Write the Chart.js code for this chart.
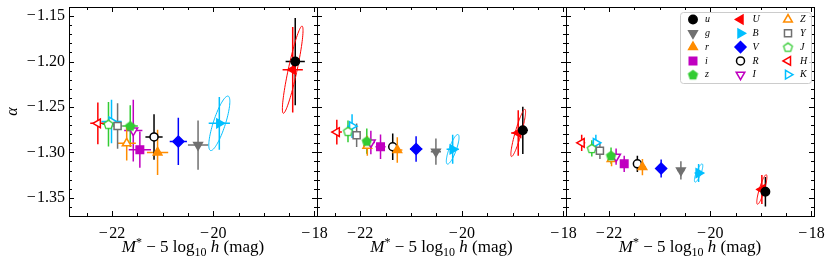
<!DOCTYPE html>
<html>
<head>
<meta charset="utf-8">
<script src="https://cdn.jsdelivr.net/npm/chart.js@4.4.0/dist/chart.umd.min.js"></script>
<style>
body{margin:0;background:#fff;}
#wrap{position:relative;width:831px;height:259px;overflow:hidden;}
#wrap canvas{position:absolute;left:0;top:0;}
.xlab{position:absolute;top:238px;line-height:18px;font-family:"Liberation Serif",serif;font-size:17px;white-space:nowrap;transform:translateX(-50%);color:#000;}
.xlab i{font-style:italic;}
.xlab .sp{font-size:12px;position:relative;top:-6px;}
.xlab .sb{font-size:12px;position:relative;top:4px;}
</style>
</head>
<body>
<div id="wrap">
<canvas id="p1" width="831" height="259"></canvas>
<canvas id="p2" width="831" height="259"></canvas>
<canvas id="p3" width="831" height="259"></canvas>
</div>
<script>
// band order used by every array below
const bands = ['u','g','r','i','z','U','B','V','R','I','Z','Y','J','H','K'];

// panel 1
const magP1      = [-18.38,-20.30,-21.10,-21.45,-21.64,-18.43,-19.88,-20.69,-21.17,-21.58,-21.71,-21.89,-22.07,-22.28,-22.01];
const alphaP1    = [-1.200,-1.292,-1.300,-1.297,-1.271,-1.209,-1.268,-1.288,-1.283,-1.276,-1.290,-1.271,-1.269,-1.268,-1.266];
const magErrP1   = [0.19,0.20,0.21,0.22,0.15,0.20,0.21,0.17,0.17,0.18,0.18,0.10,0.12,0.15,0.20];
const alphaErrP1 = [0.048,0.027,0.025,0.020,0.023,0.047,0.029,0.026,0.025,0.034,0.019,0.025,0.0245,0.023,0.024];

// panel 2
const magP2      = [-18.80,-20.51,-21.27,-21.60,-21.87,-18.89,-20.18,-20.90,-21.36,-21.79,-21.86,-22.07,-22.24,-22.46,-22.16];
const alphaP2    = [-1.2757,-1.2992,-1.2974,-1.2938,-1.2876,-1.2786,-1.2966,-1.2963,-1.2938,-1.2891,-1.2927,-1.2811,-1.2768,-1.2776,-1.2711];
const magErrP2   = [0.10,0.10,0.10,0.10,0.07,0.14,0.12,0.12,0.08,0.08,0.08,0.07,0.07,0.10,0.10];
const alphaErrP2 = [0.026,0.0145,0.014,0.0136,0.014,0.025,0.016,0.014,0.0145,0.013,0.011,0.013,0.012,0.0136,0.013];

// panel 3
const magP3      = [-18.91,-20.58,-21.34,-21.70,-21.96,-18.98,-20.23,-20.97,-21.44,-21.86,-21.95,-22.18,-22.34,-22.54,-22.26];
const alphaP3    = [-1.3433,-1.3198,-1.3162,-1.3126,-1.3036,-1.3408,-1.3227,-1.3177,-1.3126,-1.3047,-1.3072,-1.2982,-1.2956,-1.2895,-1.2895];
const magErrP3   = [0.07,0.07,0.07,0.07,0.05,0.10,0.08,0.08,0.06,0.06,0.06,0.05,0.05,0.07,0.07];
const alphaErrP3 = [0.0163,0.010,0.009,0.009,0.009,0.016,0.010,0.010,0.009,0.009,0.008,0.009,0.009,0.009,0.009];

// covariance ellipses (sigma_M, sigma_alpha, correlation)
const ellipseBands = ['U','B'];
const ellSxP1 = [0.204,0.208], ellSyP1 = [0.048,0.030], ellRhoP1 = [0.9,0.8];
const ellSxP2 = [0.145,0.125], ellSyP2 = [0.026,0.0163], ellRhoP2 = [0.9,0.8];
const ellSxP3 = [0.100,0.083], ellSyP3 = [0.0163,0.010], ellRhoP3 = [0.85,0.8];

// axes
const xMin = -22.85, xMax = -17.95;
const yMin = -1.37, yMax = -1.14;
const xTicks = [-22,-20,-18];
const yTicks = [-1.35,-1.30,-1.25,-1.20,-1.15];

// legend layout (columns of band names)
const legendCols = [['u','g','r','i','z'],['U','B','V','R','I'],['Z','Y','J','H','K']];

const FONT = '"Liberation Serif", "Times New Roman", serif';
const GREY = '#707070', ORANGE = '#ff8c00', MAG = '#c000c0', GREEN = '#33cc33', CYAN = '#00bfff';

function pentagon(color, filled){
  const c = document.createElement('canvas');
  c.width = 13; c.height = 13;
  const g = c.getContext('2d');
  g.beginPath();
  for(let k=0;k<5;k++){
    const a = -Math.PI/2 + k*2*Math.PI/5;
    const px = 6.5 + 4.6*Math.cos(a), py = 7 + 4.6*Math.sin(a);
    k ? g.lineTo(px,py) : g.moveTo(px,py);
  }
  g.closePath();
  g.fillStyle = filled ? color : '#fff';
  g.fill();
  g.lineWidth = 1.3; g.strokeStyle = color; g.stroke();
  return c;
}

const styles = {
  u:{shape:'circle',  rot:0,   color:'#000', fill:true,  r:4.2},
  g:{shape:'triangle',rot:180, color:GREY,   fill:true,  r:5},
  r:{shape:'triangle',rot:0,   color:ORANGE, fill:true,  r:5},
  i:{shape:'rect',    rot:0,   color:MAG,    fill:true,  r:5.3},
  z:{shape:pentagon(GREEN,true), rot:0, color:GREEN, fill:true, r:5},
  U:{shape:'triangle',rot:-90, color:'#ff0000', fill:true, r:5},
  B:{shape:'triangle',rot:90,  color:CYAN,   fill:true,  r:5},
  V:{shape:'rectRot', rot:0,   color:'#0000ff', fill:true, r:5.5},
  R:{shape:'circle',  rot:0,   color:'#000', fill:false, r:4},
  I:{shape:'triangle',rot:180, color:MAG,    fill:false, r:5},
  Z:{shape:'triangle',rot:0,   color:ORANGE, fill:false, r:5},
  Y:{shape:'rect',    rot:0,   color:GREY,   fill:false, r:5},
  J:{shape:pentagon(GREEN,false), rot:0, color:GREEN, fill:false, r:5},
  H:{shape:'triangle',rot:-90, color:'#ff0000', fill:false, r:5},
  K:{shape:'triangle',rot:90,  color:CYAN,   fill:false, r:5}
};

// error bars, ellipses, frame, inward ticks
const decor = {
  id:'decor',
  beforeDatasetsDraw(chart){
    const {ctx, chartArea:a, scales:{x, y}} = chart;
    ctx.save();
    ctx.beginPath(); ctx.rect(a.left, a.top, a.width, a.height); ctx.clip();
    chart.data.datasets.forEach(ds => {
      const p = ds.data[0];
      ctx.strokeStyle = ds.borderColor;
      if(ds.ell){
        const e = ds.ell, s = Math.sqrt(1 - e.rho*e.rho);
        ctx.lineWidth = 1;
        ctx.beginPath();
        for(let k=0;k<=90;k++){
          const t = k/90*2*Math.PI;
          const mx = p.x + e.sx*Math.cos(t);
          const my = p.y + e.sy*(e.rho*Math.cos(t) + s*Math.sin(t));
          const X = x.getPixelForValue(mx), Y = y.getPixelForValue(my);
          k ? ctx.lineTo(X,Y) : ctx.moveTo(X,Y);
        }
        ctx.stroke();
      }
      ctx.lineWidth = 1.5;
      ctx.beginPath();
      ctx.moveTo(x.getPixelForValue(p.x - p.ex), y.getPixelForValue(p.y));
      ctx.lineTo(x.getPixelForValue(p.x + p.ex), y.getPixelForValue(p.y));
      ctx.moveTo(x.getPixelForValue(p.x), y.getPixelForValue(p.y - p.ey));
      ctx.lineTo(x.getPixelForValue(p.x), y.getPixelForValue(p.y + p.ey));
      ctx.stroke();
    });
    ctx.restore();
  },
  afterDraw(chart){
    const {ctx, chartArea:a, scales:{x, y}} = chart;
    ctx.save();
    ctx.strokeStyle = '#000'; ctx.lineWidth = 1;
    ctx.beginPath();
    for(let v=-23; v<=-17.5; v+=0.5){
      const X = Math.round(x.getPixelForValue(v)) + 0.5;
      if(X < a.left || X > a.right) continue;
      const L = (Math.abs(v % 2) < 1e-6) ? 5 : 3;
      ctx.moveTo(X, a.bottom); ctx.lineTo(X, a.bottom - L);
      ctx.moveTo(X, a.top); ctx.lineTo(X, a.top + L);
    }
    for(let k=-137; k<=-114; k++){
      const v = k/100;
      const Y = Math.round(y.getPixelForValue(v)) + 0.5;
      if(Y < a.top || Y > a.bottom) continue;
      const L = (k % 5 === 0) ? 5 : 3;
      ctx.moveTo(a.left, Y); ctx.lineTo(a.left + L, Y);
      ctx.moveTo(a.right, Y); ctx.lineTo(a.right - L, Y);
    }
    ctx.stroke();
    ctx.strokeRect(a.left + 0.5, a.top + 0.5, a.width, a.height);
    ctx.restore();
  }
};

function drawMarker(ctx, st, x, y){
  if(Chart.helpers && Chart.helpers.drawPoint){
    Chart.helpers.drawPoint(ctx, {pointStyle:st.shape, rotation:st.rot, radius:st.r, borderWidth:1.5}, x, y);
  } else {
    ctx.beginPath(); ctx.arc(x, y, st.r, 0, 2*Math.PI); ctx.fill(); ctx.stroke();
  }
}

const legendBox = {
  id:'legendBox',
  afterDraw(chart){
    const {ctx, chartArea:a} = chart;
    const bx = a.right - 134, by = a.top + 5, bw = 131, bh = 71;
    ctx.save();
    ctx.beginPath();
    ctx.roundRect(bx + 0.5, by + 0.5, bw, bh, 3);
    ctx.fillStyle = 'rgba(255,255,255,0.8)'; ctx.fill();
    ctx.strokeStyle = '#cccccc'; ctx.lineWidth = 1; ctx.stroke();
    ctx.font = 'italic 10px ' + FONT;
    ctx.textBaseline = 'middle';
    legendCols.forEach((col, c) => {
      col.forEach((b, r) => {
        const st = styles[b];
        const mx = bx + 13 + c*47.5, my = by + 7.5 + r*13.8;
        ctx.fillStyle = st.fill ? st.color : '#fff';
        ctx.strokeStyle = st.color; ctx.lineWidth = 1.5;
        drawMarker(ctx, st, mx, my);
        ctx.fillStyle = '#000';
        ctx.fillText(b, mx + 12, my);
      });
    });
    ctx.restore();
  }
};

function makePanel(id, left, right, mags, alphas, magErrs, alphaErrs, ellSx, ellSy, ellRho, first, last){
  const datasets = bands.map((b, i) => {
    const st = styles[b];
    const j = ellipseBands.indexOf(b);
    return {
      label: b,
      data: [{x: mags[i], y: alphas[i], ex: magErrs[i], ey: alphaErrs[i]}],
      ell: j >= 0 ? {sx: ellSx[j], sy: ellSy[j], rho: ellRho[j]} : null,
      pointStyle: st.shape,
      rotation: st.rot,
      pointRadius: st.r,
      pointHoverRadius: st.r,
      borderWidth: 1.5,
      borderColor: st.color,
      backgroundColor: st.fill ? st.color : '#ffffff'
    };
  });
  return new Chart(document.getElementById(id), {
    type: 'scatter',
    data: {datasets},
    options: {
      responsive: false,
      animation: false,
      events: [],
      layout: {padding: {left: first ? 0 : left, right: 831 - right, top: 4, bottom: 0}},
      plugins: {legend: {display: false}, tooltip: {enabled: false}},
      scales: {
        x: {
          type: 'linear', min: xMin, max: xMax,
          grid: {display: false, drawTicks: false},
          border: {display: false},
          afterBuildTicks: s => { s.ticks = xTicks.map(v => ({value: v})); },
          afterFit: s => { s.height = 43; s.paddingLeft = 0; s.paddingRight = 0; },
          ticks: {
            color: '#000', padding: 8,
            font: {family: FONT, size: 16},
            callback: v => '\u2212\u200a' + Math.abs(v)
          }
        },
        y: {
          type: 'linear', min: yMin, max: yMax,
          display: first,
          grid: {display: false, drawTicks: false},
          border: {display: false},
          afterBuildTicks: s => { s.ticks = yTicks.map(v => ({value: v})); },
          afterFit: s => { s.width = first ? left : 0; s.paddingTop = 0; s.paddingBottom = 0; },
          title: {display: true, text: '\u03b1', color: '#000', padding: {top: 3, bottom: 0},
                  font: {family: FONT, size: 16, style: 'italic'}},
          ticks: {
            color: '#000', padding: 4,
            font: {family: FONT, size: 16},
            callback: v => '\u2212\u200a' + Math.abs(v).toFixed(2)
          }
        }
      }
    },
    plugins: last ? [decor, legendBox] : [decor]
  });
}

const edges = [69, 317, 566, 814];
makePanel('p1', edges[0], edges[1], magP1, alphaP1, magErrP1, alphaErrP1, ellSxP1, ellSyP1, ellRhoP1, true, false);
makePanel('p2', edges[1], edges[2], magP2, alphaP2, magErrP2, alphaErrP2, ellSxP2, ellSyP2, ellRhoP2, false, false);
makePanel('p3', edges[2], edges[3], magP3, alphaP3, magErrP3, alphaErrP3, ellSxP3, ellSyP3, ellRhoP3, false, true);

// x-axis titles under each panel
const wrap = document.getElementById('wrap');
for(let k=0;k<3;k++){
  const d = document.createElement('div');
  d.className = 'xlab';
  d.style.left = ((edges[k] + edges[k+1]) / 2) + 'px';
  d.innerHTML = '<i>M</i><span class="sp">*</span> \u2212 5 log<span class="sb">10</span> <i>h</i> (mag)';
  wrap.appendChild(d);
}
</script>
</body>
</html>
